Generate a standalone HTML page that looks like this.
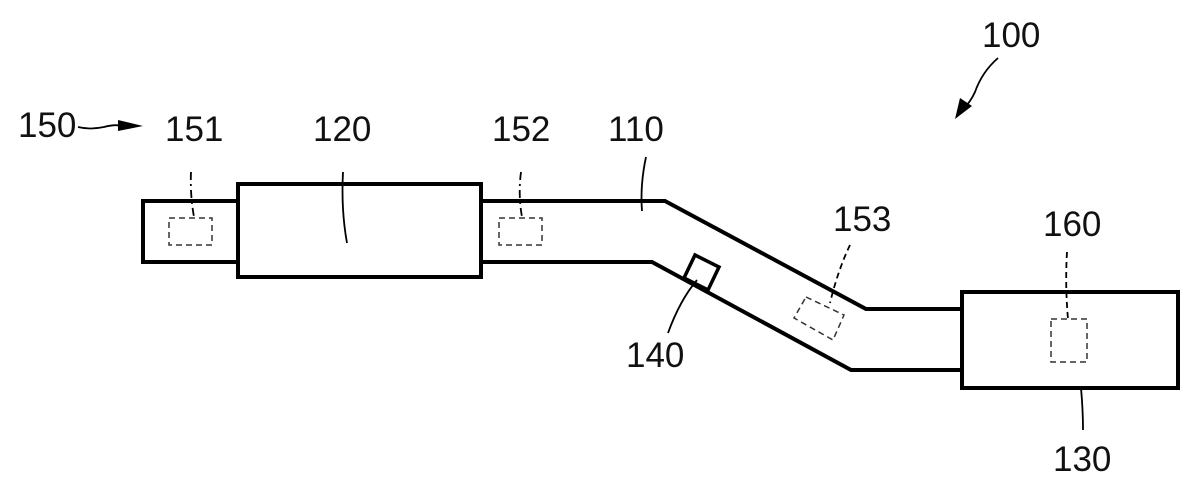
<!DOCTYPE html>
<html><head><meta charset="utf-8"><style>
html,body{margin:0;padding:0;background:#fff;}
svg{display:block;}
text{font-family:"Liberation Sans Narrow","Liberation Sans",sans-serif;font-size:35px;fill:#111;}
</style></head><body>
<svg width="1200" height="490" viewBox="0 0 1200 490" xmlns="http://www.w3.org/2000/svg">
<defs>
<marker id="ah" markerWidth="10" markerHeight="8" refX="9" refY="4" orient="auto" markerUnits="userSpaceOnUse" viewBox="0 0 10 8">
</marker>
</defs>
<g fill="none" stroke="#000" stroke-width="4" stroke-linejoin="miter">
<!-- left stub -->
<polyline points="238,201 143,201 143,262 238,262"/>
<!-- box 120 -->
<rect x="238" y="184" width="243" height="93"/>
<!-- pipe -->
<polyline points="481,201 665,201 866,309 962,309"/>
<polyline points="481,262 652,262 851,370 962,370"/>
<!-- box 130 -->
<rect x="962" y="292" width="216" height="96"/>
<!-- sensor 140 -->
<polygon points="695,255 719,267 708,290 684,278" stroke-width="3.5"/>
</g>
<g fill="none" stroke="#333" stroke-width="1.5" stroke-dasharray="6,4">
<rect x="169" y="218" width="43" height="27"/>
<rect x="499" y="218" width="43" height="27"/>
<polygon points="806,297 844,315 833,340 794,318"/>
<rect x="1051" y="319" width="36" height="43"/>
</g>
<!-- leaders -->
<g fill="none" stroke="#000" stroke-width="1.8">
<path d="M191,172 Q190,195 194,217" stroke-dasharray="8,4,2,4"/>
<path d="M521,172 Q518,195 522,217" stroke-dasharray="8,4,2,4"/>
<path d="M343,172 Q341,210 347,243"/>
<path d="M646,157 Q640,185 642,211"/>
<path d="M697,280 Q680,300 668,333"/>
<path d="M850,245 Q838,270 830,303" stroke-dasharray="6,4"/>
<path d="M1067,252 Q1065,285 1068,319" stroke-dasharray="6,4"/>
<path d="M1081,388 Q1083,410 1083,430"/>
<path d="M78,127 Q90,130 104,127 Q115,124 122,126"/>
<path d="M998,58 Q982,72 975,92 Q970,103 962,110"/>
</g>
<polygon points="118,120 143,126 118,131" fill="#000"/>
<polygon points="955,119 960,98 972,106" fill="#000"/>
<!-- labels -->
<text x="18" y="137">150</text>
<text x="165" y="141">151</text>
<text x="313" y="141">120</text>
<text x="492" y="141">152</text>
<text x="608" y="141">110</text>
<text x="982" y="47">100</text>
<text x="833" y="231">153</text>
<text x="1043" y="236">160</text>
<text x="626" y="367">140</text>
<text x="1053" y="471">130</text>
</svg>
</body></html>
